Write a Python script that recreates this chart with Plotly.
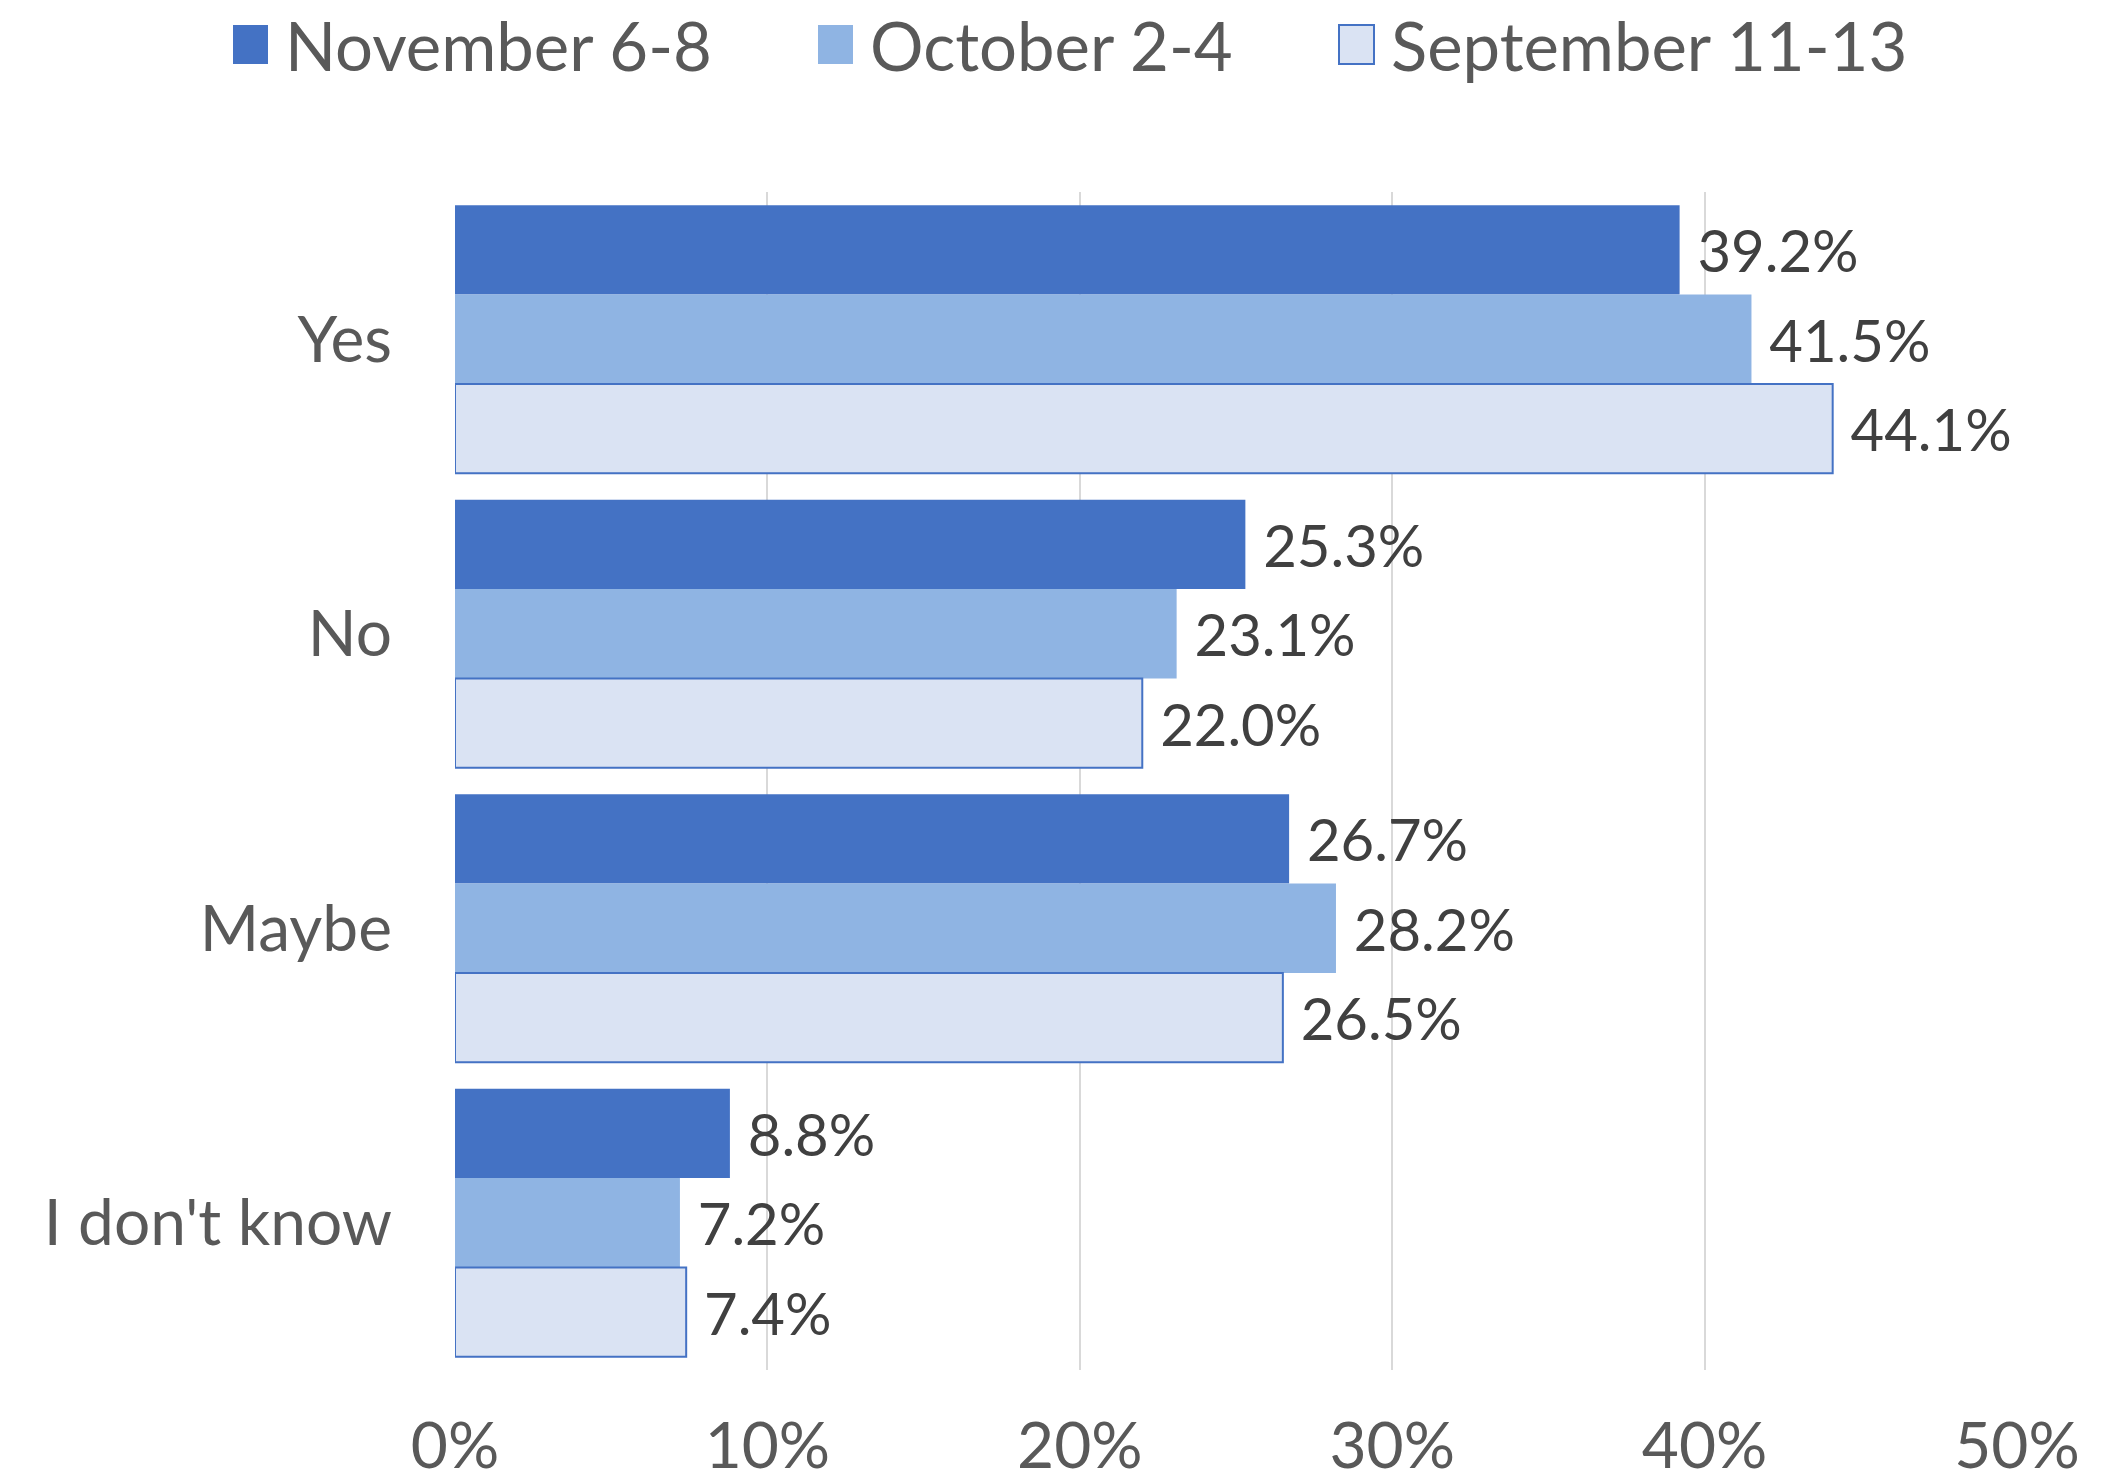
import plotly.graph_objects as go

categories = ["Yes", "No", "Maybe", "I don't know"]
series_names = ["November 6-8", "October 2-4", "September 11-13"]
nov_values = [39.2, 25.3, 26.7, 8.8]
oct_values = [41.5, 23.1, 28.2, 7.2]
sep_values = [44.1, 22.0, 26.5, 7.4]
x_ticks = [0, 10, 20, 30, 40, 50]

fill_colors = ["#4472C4", "#8FB4E3", "#DAE3F3"]
line_colors = ["#4472C4", "#8FB4E3", "#4472C4"]
line_widths = [0, 0, 2]

W, H = 2120, 1484
L, R, T, B = 455, 103, 192, 114
FONT = "Lato"

fig = go.Figure()
for name, vals, fc, lc, lw in zip(series_names, [nov_values, oct_values, sep_values],
                                  fill_colors, line_colors, line_widths):
    fig.add_trace(go.Bar(
        y=categories, x=vals, name=name, orientation="h",
        marker=dict(color=fc, line=dict(color=lc, width=lw)),
        texttemplate=" %{x:.1f}%", textposition="outside",
        textfont=dict(family=FONT, size=58, color="#404040"),
        constraintext="none", cliponaxis=False, showlegend=False,
    ))

# manual legend (large swatches like the original)
plot_w = W - L - R
plot_h = H - T - B
def px_x(p):
    return (p - L) / plot_w
def px_y(p):
    return 1 - (p - T) / plot_h

legend_swatch_x = [233, 818, 1339]
for i, name in enumerate(series_names):
    x0 = legend_swatch_x[i]
    fig.add_shape(type="rect", xref="paper", yref="paper",
                  x0=px_x(x0), x1=px_x(x0 + 35), y0=px_y(64), y1=px_y(25),
                  fillcolor=fill_colors[i],
                  line=dict(color=line_colors[i], width=line_widths[i]))
    fig.add_annotation(xref="paper", yref="paper", x=px_x(x0 + 50), y=px_y(45),
                       text=name, showarrow=False, xanchor="left", yanchor="middle",
                       font=dict(family=FONT, size=67, color="#595959"))

fig.update_layout(
    width=W, height=H,
    margin=dict(l=L, r=R, t=T, b=B, pad=0, autoexpand=False),
    paper_bgcolor="white", plot_bgcolor="white",
    barmode="group", bargap=0.09, bargroupgap=0,
    font=dict(family=FONT, color="#595959"),
    showlegend=False,
)
fig.update_xaxes(
    range=[0, 50], tickvals=x_ticks, ticktext=[f"{v}%" for v in x_ticks],
    showgrid=True, gridcolor="#D9D9D9", gridwidth=2,
    zeroline=False, showline=False, ticks="", automargin=False,
    tickfont=dict(family=FONT, size=64, color="#595959"),
    ticklabelstandoff=33,
)
fig.update_yaxes(
    autorange="reversed", showgrid=False, zeroline=False, showline=False, ticks="",
    automargin=False,
    tickfont=dict(family=FONT, size=64, color="#595959"),
    ticklabelstandoff=62,
)

fig.write_html("out.html", config={"displayModeBar": False},
               post_script="document.body.style.margin='0';")
